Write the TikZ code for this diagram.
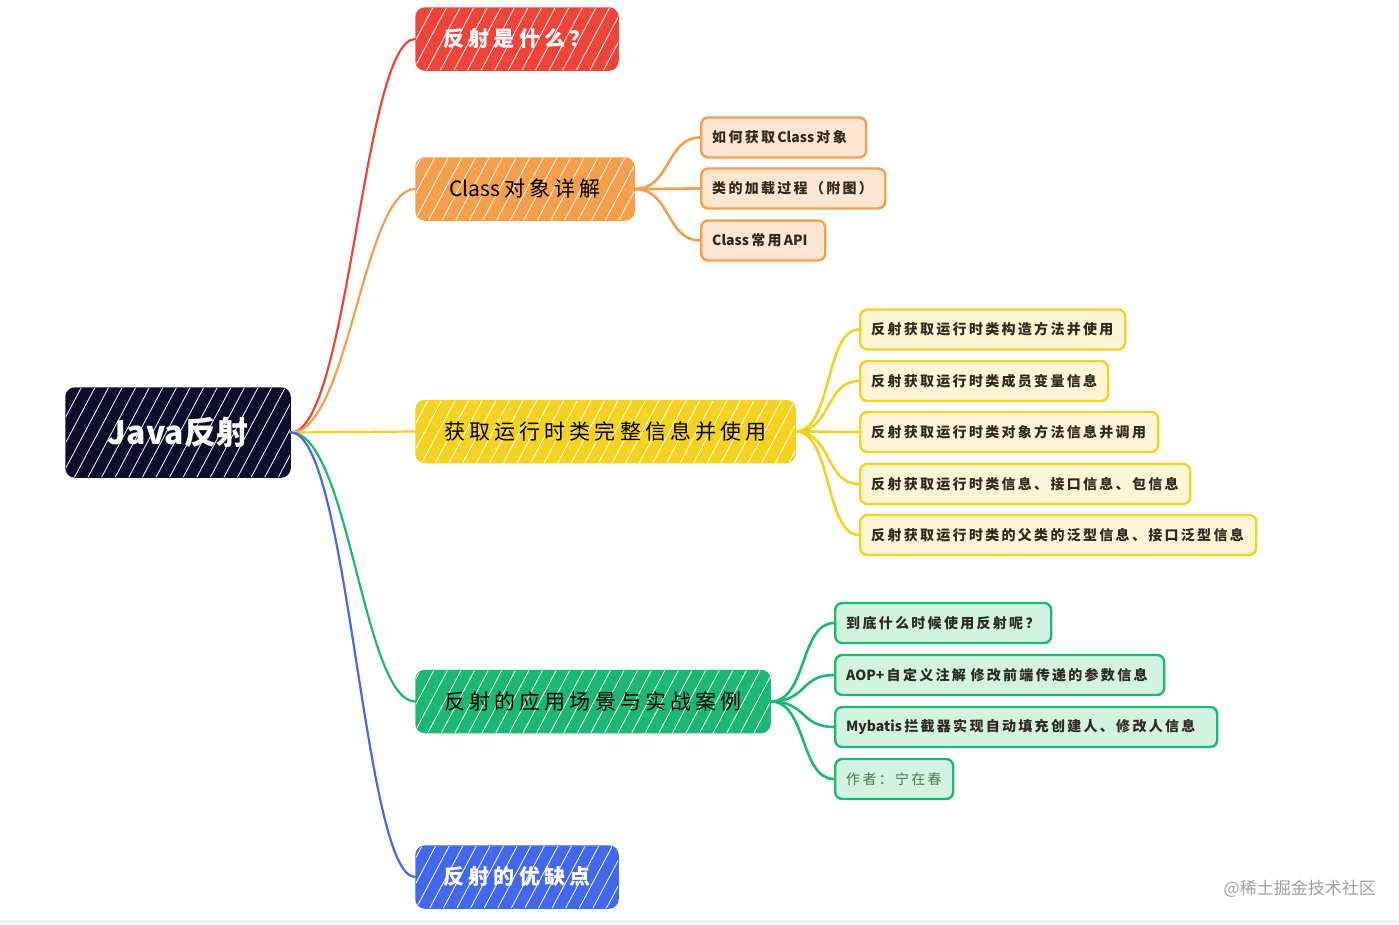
\documentclass[tikz,border=0pt]{standalone}
\usepackage{fontspec}
\setmainfont{Noto Sans CJK SC}
\usetikzlibrary{patterns.meta}
\newXeTeXintercharclass\cjkcls
\newcount\cjkcc
\cjkcc="4E00
\loop \XeTeXcharclass\cjkcc=\cjkcls \advance\cjkcc by 1 \ifnum\cjkcc<"A000 \repeat
\cjkcc="3000
\loop \XeTeXcharclass\cjkcc=\cjkcls \advance\cjkcc by 1 \ifnum\cjkcc<"3040 \repeat
\cjkcc="FF00
\loop \XeTeXcharclass\cjkcc=\cjkcls \advance\cjkcc by 1 \ifnum\cjkcc<"FF60 \repeat
\XeTeXinterchartokenstate=1
\newlength\cjkgap
\setlength\cjkgap{0pt}
\XeTeXinterchartoks \cjkcls \cjkcls = {\kern\cjkgap\relax}
\XeTeXinterchartoks 0 \cjkcls = {\kern\cjkgap\relax}
\XeTeXinterchartoks \cjkcls 0 = {\kern\cjkgap\relax}
\definecolor{rootc}{HTML}{0C0E2B}
\definecolor{redc}{HTML}{F0443A}
\definecolor{orangec}{HTML}{F59E4B}
\definecolor{yellowc}{HTML}{F5D21F}
\definecolor{greenc}{HTML}{1AB872}
\definecolor{bluec}{HTML}{4467F0}
\definecolor{orangel}{HTML}{FDE6D2}
\definecolor{yellowl}{HTML}{FDF5D5}
\definecolor{greenl}{HTML}{D2F2E2}
\definecolor{leaftext}{HTML}{2E2A1E}
\tikzset{
  hatch/.style={postaction={fill opacity=.42, pattern={Lines[angle=62,distance=12pt,line width=.8pt]}, pattern color=white}},
  rootbox/.style={rounded corners=9pt, fill=rootc, draw=rootc, line width=1.5pt, minimum width=224pt, minimum height=89pt, text=white, inner sep=0pt, font=\setlength\cjkgap{0pt}\fontsize{32}{36}\selectfont\bfseries, hatch},
  branch/.style={rounded corners=9pt, line width=1.5pt, minimum height=62pt, inner sep=0pt, font=\setlength\cjkgap{4.1pt}\fontsize{21}{24}\selectfont, fill=#1, draw=#1, hatch},
  branchw/.style={branch=#1, text=white, font=\setlength\cjkgap{4.1pt}\fontsize{21}{24}\selectfont\bfseries},
  leaf/.style={rounded corners=7pt, line width=2.4pt, minimum height=40pt, inner xsep=11pt, inner ysep=0pt, anchor=west, align=left, text=leaftext, font=\setlength\cjkgap{2.3pt}\fontsize{14}{16}\selectfont\bfseries},
  oleaf/.style={leaf, fill=orangel, draw=orangec},
  yleaf/.style={leaf, fill=yellowl, draw=yellowc},
  gleaf/.style={leaf, fill=greenl, draw=greenc},
  conn/.style={line width=2.2pt, line cap=round},
  lconn/.style={line width=2.6pt, line cap=round},
}
\begin{document}
\begin{tikzpicture}[x=1pt,y=-1pt]
\useasboundingbox (0,0) rectangle (1399,924);
\fill[gray!12] (0,920) rectangle (1399,924);

% root and branches
\node[rootbox] (root) at (178,432.5) {Java反射};
\node[branchw=redc, minimum width=202pt] (b1) at (517,39) {反射是什么？};
\node[branch=orangec, minimum width=218pt, text=black] (b2) at (525,189) {Class对象详解};
\node[branch=yellowc, minimum width=379pt, text=black] (b3) at (605.5,431.5) {获取运行时类完整信息并使用};
\node[branch=greenc, minimum width=354pt, text=black] (b4) at (593,701.5) {反射的应用场景与实战案例};
\node[branchw=bluec, minimum width=202pt] (b5) at (517,877) {反射的优缺点};

% orange leaves
\node[oleaf, minimum width=165pt, text width=143pt] (o1) at (700,137.5) {如何获取Class对象};
\node[oleaf, minimum width=184pt, text width=162pt] (o2) at (700,188.5) {类的加载过程（附图）};
\node[oleaf, minimum width=124pt, text width=102pt] (o3) at (700,240.5) {Class常用API};

% yellow leaves
\node[yleaf, minimum width=265pt, text width=243pt] (y1) at (859,329.5) {反射获取运行时类构造方法并使用};
\node[yleaf, minimum width=248pt, text width=226pt] (y2) at (859,381) {反射获取运行时类成员变量信息};
\node[yleaf, minimum width=298pt, text width=276pt] (y3) at (859,432) {反射获取运行时类对象方法信息并调用};
\node[yleaf, minimum width=330pt, text width=308pt] (y4) at (859,484) {反射获取运行时类信息、接口信息、包信息};
\node[yleaf, minimum width=396pt, text width=374pt] (y5) at (859,535) {反射获取运行时类的父类的泛型信息、接口泛型信息};

% green leaves
\node[gleaf, minimum width=216pt, text width=194pt] (g1) at (834,623) {到底什么时候使用反射呢？};
\node[gleaf, minimum width=329pt, text width=307pt] (g2) at (834,675) {AOP+自定义注解~修改前端传递的参数信息};
\node[gleaf, minimum width=382pt, text width=360pt] (g3) at (834,727) {Mybatis拦截器实现自动填充创建人、修改人信息};
\node[gleaf, minimum width=118pt, text width=96pt, font=\setlength\cjkgap{2.3pt}\fontsize{14}{16}\selectfont, text=green!25!black!70] (g4) at (834,779) {作者：宁在春};

% root connectors
\draw[conn, redc] (root.east) .. controls +(58,0) and +(-52,0) .. (b1.west);
\draw[conn, orangec] (root.east) .. controls +(58,0) and +(-52,0) .. (b2.west);
\draw[conn, yellowc] (root.east) -- (b3.west);
\draw[conn, greenc] (root.east) .. controls +(58,0) and +(-52,0) .. (b4.west);
\draw[conn, bluec] (root.east) .. controls +(58,0) and +(-52,0) .. (b5.west);

% branch to leaf connectors
\foreach \l in {o1,o2,o3}
  \draw[lconn, orangec] (b2.east) .. controls +(36,0) and +(-34,0) .. (\l.west);
\foreach \l in {y1,y2,y3,y4,y5}
  \draw[lconn, yellowc] (b3.east) .. controls +(36,0) and +(-34,0) .. (\l.west);
\foreach \l in {g1,g2,g3,g4}
  \draw[lconn, greenc] (b4.east) .. controls +(36,0) and +(-34,0) .. (\l.west);

% watermark
\node[anchor=east, text=gray!75, font=\fontsize{17}{20}\selectfont, inner sep=0pt] (wm) at (1376,889) {@稀土掘金技术社区};
\end{tikzpicture}
\end{document}
